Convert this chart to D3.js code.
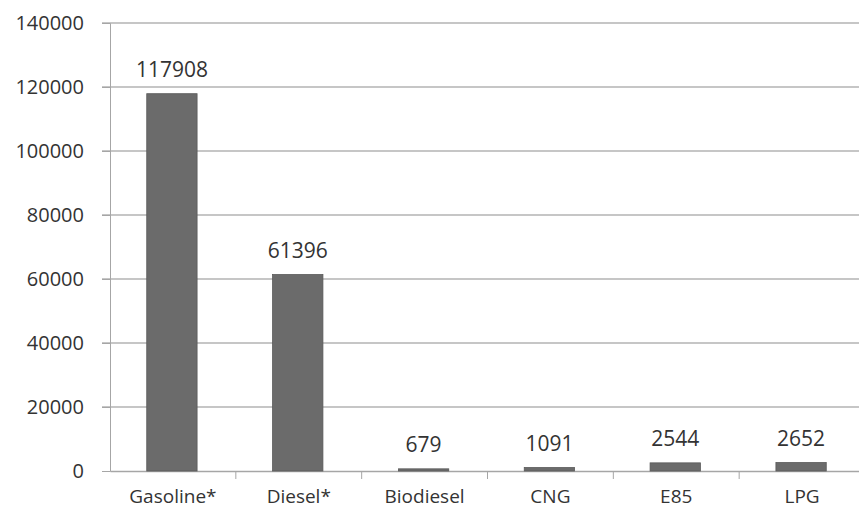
<!DOCTYPE html>
<html><head><meta charset="utf-8">
<script src="https://cdn.jsdelivr.net/npm/d3@7"></script>
<style>body{margin:0;background:#fff}svg{display:block}</style>
</head><body>
<script>
const categories = ["Gasoline*", "Diesel*", "Biodiesel", "CNG", "E85", "LPG"];
const values = [117908, 61396, 679, 1091, 2544, 2652];
const yTicks = [0, 20000, 40000, 60000, 80000, 100000, 120000, 140000];

const W = 859, H = 514;
const m = {left: 110, right: -6, top: 23, bottom: 43};
const svg = d3.select("body").append("svg").attr("width", W).attr("height", H);
const x = d3.scaleBand().domain(categories).range([m.left, W - m.right]).paddingInner(0.6).paddingOuter(0.3);
const band = d3.scaleBand().domain(categories).range([m.left, W - m.right]);
const y = d3.scaleLinear().domain([0, 140000]).range([H - m.bottom, m.top]);
const font = "'Open Sans', sans-serif";

// gridlines
svg.append("g").selectAll("line").data(yTicks.filter(d => d > 0)).join("line")
  .attr("x1", m.left - 8).attr("x2", W).attr("y1", d => y(d)).attr("y2", d => y(d))
  .attr("stroke", "#b3b3b3").attr("stroke-width", 1.3);

// y axis
const ya = svg.append("g").attr("transform", `translate(${m.left},0)`)
  .call(d3.axisLeft(y).tickValues(yTicks).tickSize(8).tickPadding(18).tickFormat(d3.format("d")));
ya.select(".domain").attr("stroke", "#a6a6a6");
ya.selectAll(".tick line").attr("stroke", "#a6a6a6");
ya.selectAll("text").attr("font-family", font).attr("font-size", 20).attr("fill", "#333");

// x axis
const xa = svg.append("g").attr("transform", `translate(0,${y(0)})`)
  .call(d3.axisBottom(band).tickSize(0).tickPadding(19));
xa.select(".domain").attr("stroke", "#a6a6a6").attr("stroke-width", 1.3);
xa.selectAll("text").attr("font-family", font).attr("font-size", 19).attr("fill", "#333");
svg.append("g").selectAll("line").data(categories.slice(1)).join("line")
  .attr("x1", d => band(d)).attr("x2", d => band(d))
  .attr("y1", y(0)).attr("y2", y(0) + 8).attr("stroke", "#a6a6a6");

// bars
svg.append("g").selectAll("rect").data(values).join("rect")
  .attr("x", (d, i) => x(categories[i]) - 1)
  .attr("width", x.bandwidth())
  .attr("y", d => y(d)).attr("height", d => y(0) - y(d))
  .attr("fill", "#6b6b6b").attr("stroke", "#5a5a5a").attr("stroke-width", 0.8);

// value labels
svg.append("g").selectAll("text").data(values).join("text")
  .attr("x", (d, i) => x(categories[i]) + x.bandwidth() / 2 - 1)
  .attr("y", d => y(d) - 17)
  .attr("text-anchor", "middle")
  .attr("font-family", font).attr("font-size", 21).attr("fill", "#333")
  .text(d => d);
</script>
</body></html>
